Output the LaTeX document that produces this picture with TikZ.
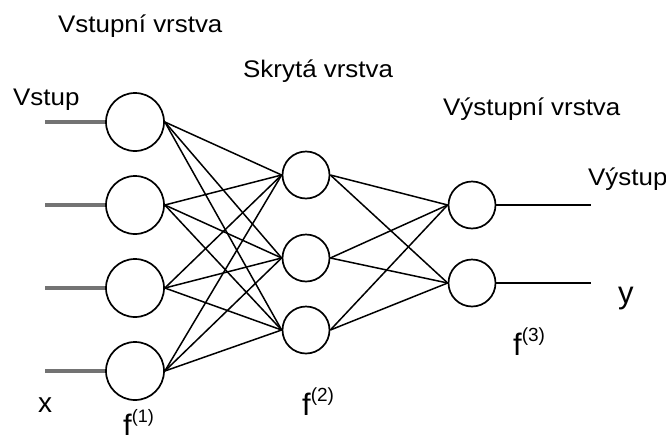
\documentclass[tikz,border=0pt]{standalone}
\usepackage{fontspec}
\setmainfont{Liberation Sans}
\newfontfamily\labfont[FakeStretch=1.08]{Liberation Sans}
\begin{document}
\begin{tikzpicture}[x=1pt,y=-1pt,
  neuron/.style={circle,draw=black,line width=1.7pt,inner sep=0pt},
  inneuron/.style={neuron,minimum size=58pt},
  smneuron/.style={neuron,minimum size=47pt},
  edge/.style={line width=1.5pt,black},
  inline/.style={line width=3.8pt,color=black!55},
  outline/.style={line width=1.5pt,black},
  lab/.style={anchor=base west,inner sep=0pt,font=\labfont\fontsize{24}{28}\selectfont},
  biglab/.style={anchor=base west,inner sep=0pt,font=\fontsize{31}{34}\selectfont}]
\useasboundingbox (0,0) rectangle (666,434);
% input layer
\node[inneuron] (i1) at (135,122) {};
\node[inneuron] (i2) at (135,205) {};
\node[inneuron] (i3) at (135,288) {};
\node[inneuron] (i4) at (135,371) {};
% hidden layer
\node[smneuron] (h1) at (306,175) {};
\node[smneuron] (h2) at (306,258) {};
\node[smneuron] (h3) at (306,330) {};
% output layer
\node[smneuron] (o1) at (472,205) {};
\node[smneuron] (o2) at (472,283) {};
% input stubs
\coordinate (s1) at (45,122);
\coordinate (s2) at (45,205);
\coordinate (s3) at (45,288);
\coordinate (s4) at (45,371);
\foreach \k in {1,2,3,4}{\draw[inline] (s\k) -- (i\k.west);}
% output stubs
\coordinate (e1) at (591,205);
\coordinate (e2) at (591,283);
\foreach \k in {1,2}{\draw[outline] (o\k.east) -- (e\k);}
% connections
\foreach \a in {1,2,3,4}{\foreach \b in {1,2,3}{\draw[edge] (i\a.east) -- (h\b.west);}}
\foreach \a in {1,2,3}{\foreach \b in {1,2}{\draw[edge] (h\a.east) -- (o\b.west);}}
% labels
\node[lab] (l1) at (58,32) {Vstupní vrstva};
\node[lab] (l2) at (13,105) {Vstup};
\node[lab] (l3) at (243,77) {Skrytá vrstva};
\node[lab] (l4) at (443,115) {Výstupní vrstva};
\node[lab] (l5) at (588,185) {Výstup};
\node[biglab] (l6) at (618,303) {y};
\node[biglab,font=\fontsize{28}{32}\selectfont] (l7) at (38,412) {x};
\node[biglab] (f1) at (123,436) {f\raisebox{14pt}{\fontsize{18}{20}\selectfont(1)}};
\node[biglab] (f2) at (302,415) {f\raisebox{14pt}{\fontsize{19}{20}\selectfont(2)}};
\node[biglab] (f3) at (513,355) {f\raisebox{14pt}{\fontsize{19}{20}\selectfont(3)}};
\end{tikzpicture}
\end{document}
